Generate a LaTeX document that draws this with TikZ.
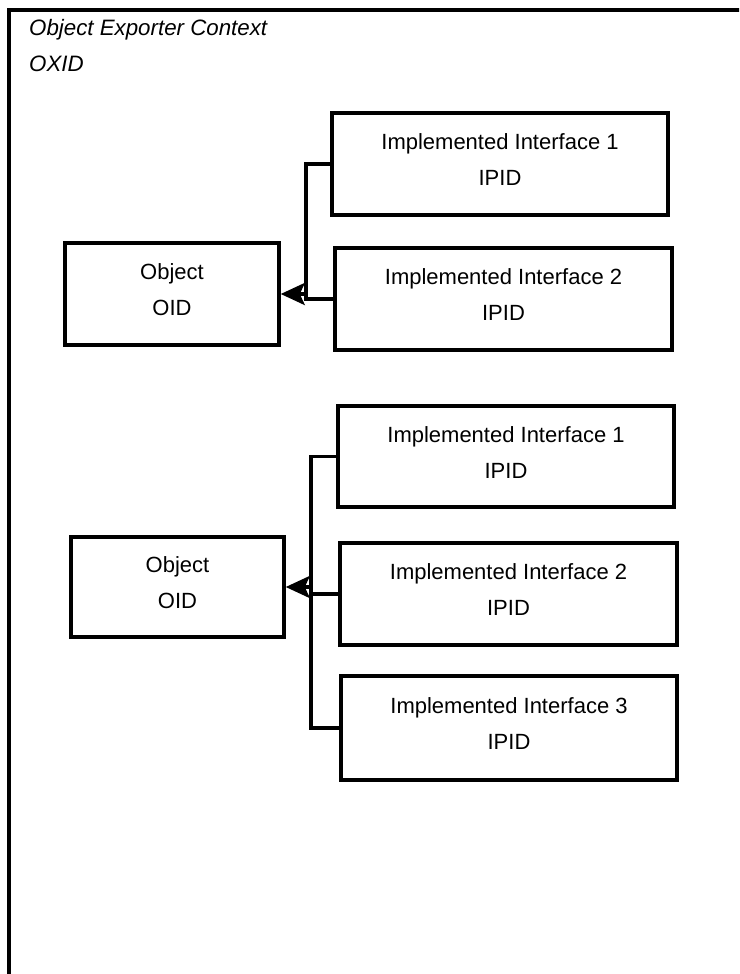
\documentclass[tikz,border=0pt]{standalone}
\usepackage{fontspec}
\setmainfont{Liberation Sans}
\usetikzlibrary{arrows.meta}
\begin{document}
\begin{tikzpicture}[x=1pt,y=-1pt,
  box/.style={draw,line width=3.5pt,rectangle,inner sep=0pt,align=center,text depth=8pt,
    font=\fontsize{22}{36}\selectfont},
  conn/.style={line width=3.5pt},
  arr/.style={line width=3.5pt,-{Stealth[length=24pt,width=22pt,inset=5pt]}},
  title/.style={anchor=base west,inner sep=0pt,font=\fontsize{22.3}{26}\selectfont\itshape}]
\useasboundingbox (0,0) rectangle (739,974);
\begin{scope}
\clip (0,0) rectangle (739,974);
\draw[line width=4.5pt] (9,1100) -- (9,10) -- (900,10);
\end{scope}
\node[title] (t1) at (29,36) {Object Exporter Context};
\node[title] (t2) at (29,71) {OXID};

\node[box,minimum width=336pt,minimum height=102pt] (A1) at (500,164) {Implemented Interface 1\\IPID};
\node[box,minimum width=337pt,minimum height=102pt] (A2) at (503.5,299) {Implemented Interface 2\\IPID};
\node[box,minimum width=214pt,minimum height=102pt] (oA) at (172,294) {Object\\OID};

\node[box,minimum width=336pt,minimum height=101pt] (B1) at (506,456.5) {Implemented Interface 1\\IPID};
\node[box,minimum width=337pt,minimum height=102pt] (B2) at (508.5,594) {Implemented Interface 2\\IPID};
\node[box,minimum width=336pt,minimum height=104pt] (B3) at (509,728) {Implemented Interface 3\\IPID};
\node[box,minimum width=213pt,minimum height=100pt] (oB) at (177.5,587) {Object\\OID};

\coordinate (jA) at (306,294);
\draw[conn] (A1.west) -| (jA |- A2.west) -- (A2.west);
\draw[arr] (jA) -- (oA.east);

\coordinate (jB) at (311,587);
\draw[conn] (B1.west) -| (jB |- B3.west) -- (B3.west);
\draw[conn] (B2.west) -- (jB |- B2.west);
\draw[arr] (jB) -- (oB.east);
\end{tikzpicture}
\end{document}
